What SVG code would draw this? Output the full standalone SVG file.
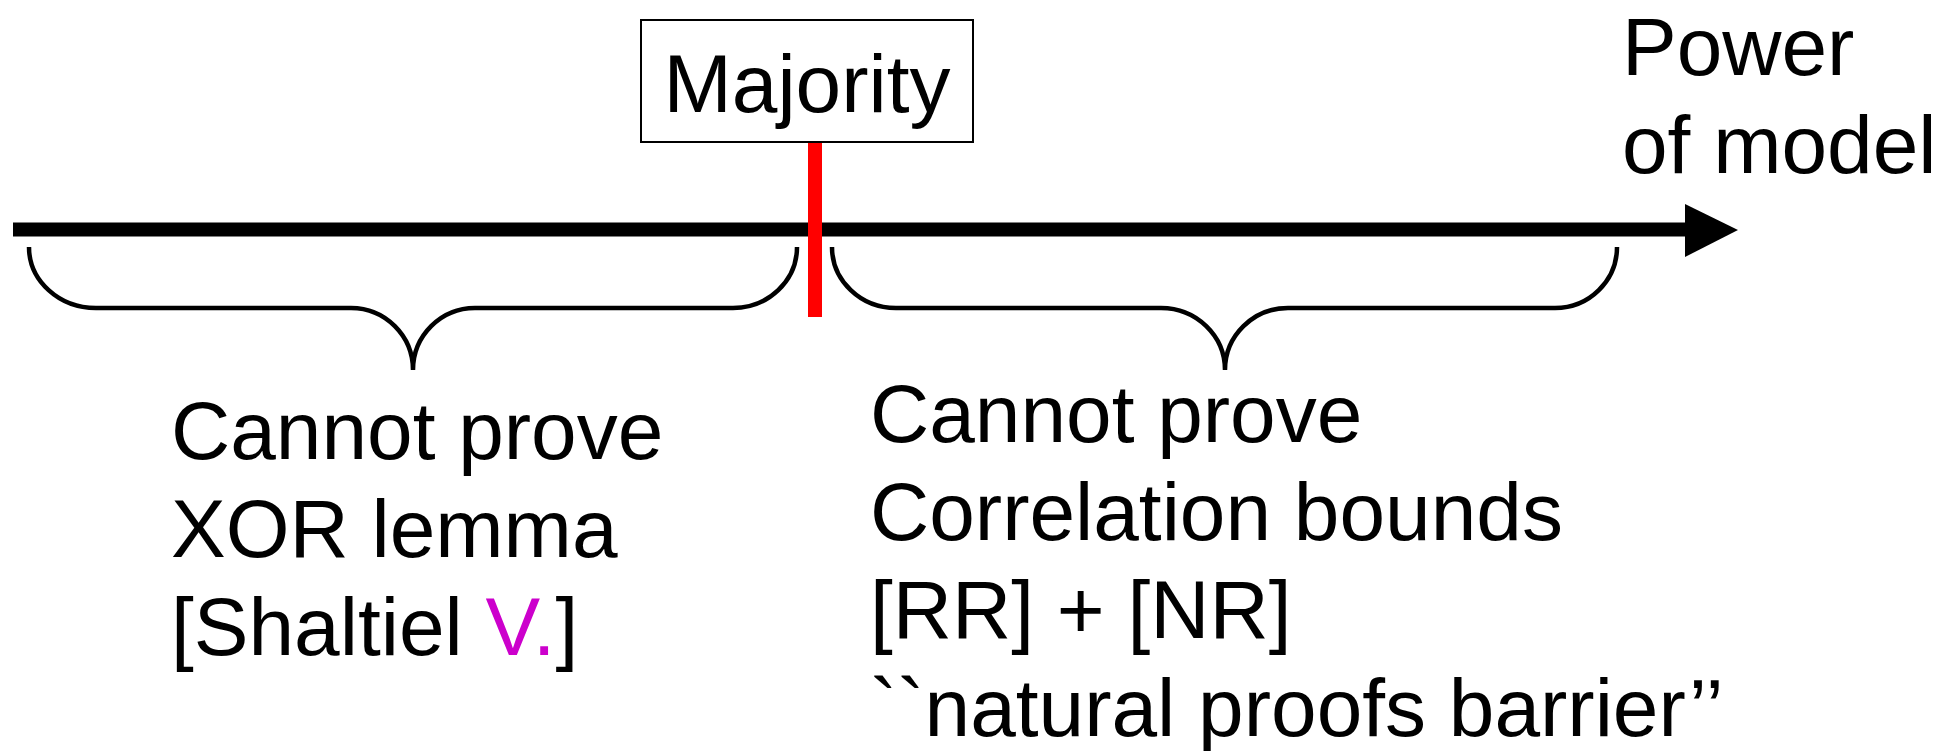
<svg xmlns="http://www.w3.org/2000/svg" width="1954" height="751" viewBox="0 0 1954 751">
<style>
text{font-family:"Liberation Sans",Arial,sans-serif;font-size:82px;fill:#000}
.brace{fill:none;stroke:#000;stroke-width:4.5}
.mag{fill:#CC00CC}
</style>
<rect width="1954" height="751" fill="#fff"/>
<g id="connectors">
<line x1="13" y1="229.5" x2="1690" y2="229.5" stroke="#000" stroke-width="14"/>
<polygon points="1685,204 1738,230 1685,257" fill="#000"/>
<line x1="815" y1="142" x2="815" y2="317" stroke="#FF0000" stroke-width="14"/>
</g>
<g id="majority">
<rect x="641" y="20" width="332" height="122" fill="#fff" stroke="#000" stroke-width="2"/>
<text x="807" y="112" text-anchor="middle">Majority</text>
</g>
<g id="axis-label">
<text x="1622" y="75">Power</text>
<text x="1622" y="173">of model</text>
</g>
<g id="left-brace">
<path class="brace" d="M29,247 A67,61 0 0 0 96,308 L351,308 A62,62 0 0 1 413,370 A62,62 0 0 1 475,308 L733,308 A64,61 0 0 0 797,247"/>
</g>
<g id="right-brace">
<path class="brace" d="M832,247 A64,61 0 0 0 896,308 L1161,308 A64,62 0 0 1 1225,370 A63,62 0 0 1 1288,308 L1555,308 A62,61 0 0 0 1617,247"/>
</g>
<g id="left-text">
<text x="171" y="459">Cannot prove</text>
<text x="171" y="557">XOR lemma</text>
<text x="171" y="655">[Shaltiel <tspan class="mag">V.</tspan>]</text>
</g>
<g id="right-text">
<text x="870" y="442">Cannot prove</text>
<text x="870" y="540">Correlation bounds</text>
<text x="870" y="638">[RR] + [NR]</text>
<text x="870" y="736">``natural proofs barrier’’</text>
</g>
</svg>
